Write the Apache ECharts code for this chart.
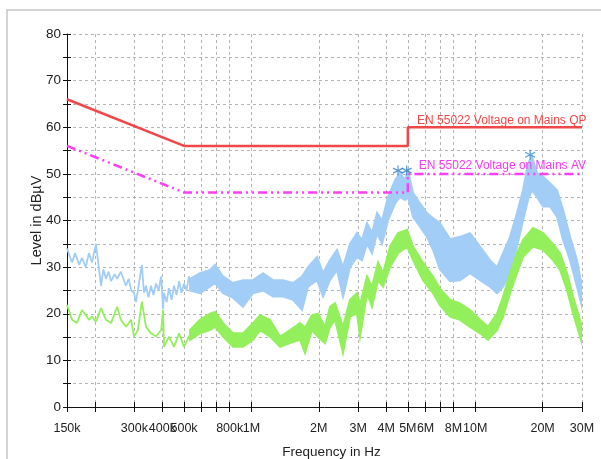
<!DOCTYPE html>
<html>
<head>
<meta charset="utf-8">
<script src="https://cdn.jsdelivr.net/npm/echarts@6/dist/echarts.min.js"></script>
<style>
  html, body { margin: 0; padding: 0; background: #fff; }
  #chart { width: 601px; height: 459px; }
</style>
</head>
<body>
<div id="chart"></div>
<script>
// frequencies in MHz, levels in dBuV
const tickFreqs = [0.15, 0.2, 0.3, 0.4, 0.5, 0.6, 0.7, 0.8, 1, 2, 3, 4, 5, 6, 7, 8, 10, 20, 30];
const labelFreqs = [0.15, 0.3, 0.4, 0.5, 0.8, 1, 2, 3, 4, 5, 6, 8, 10, 20, 30];
const labelTexts = ["150k", "300k", "400k", "500k", "800k", "1M", "2M", "3M", "4M", "5M", "6M", "8M", "10M", "20M", "30M"];

const qpFreq = [0.15, 0.5, 5, 5, 30];
const qpLevel = [66, 56, 56, 60, 60];
const avFreq = [0.15, 0.5, 5, 5, 30];
const avLevel = [56, 46, 46, 50, 50];

const blueLineFreq = [0.150, 0.158, 0.163, 0.170, 0.175, 0.182, 0.188, 0.194, 0.202, 0.208,
  0.213, 0.218, 0.224, 0.230, 0.236, 0.245, 0.251, 0.261, 0.275, 0.283,
  0.290, 0.299, 0.305, 0.311, 0.318, 0.324, 0.331, 0.338, 0.347, 0.356,
  0.365, 0.375, 0.385, 0.395, 0.403, 0.407, 0.418, 0.428, 0.440, 0.451,
  0.463, 0.475, 0.487, 0.500, 0.513, 0.526, 0.540, 0.554, 0.570, 0.589];
const blueLineLevel = [34, 31, 33, 30.5, 32, 30, 33, 31, 35, 30,
  26, 29.5, 27.5, 29, 27, 28.5, 27.5, 29, 26, 27.5,
  25, 24.5, 22.5, 25, 28, 30.5, 24.5, 26, 23.5, 26,
  24, 26.5, 25, 28, 21, 24.5, 22.5, 25.5, 23, 26,
  24, 27, 24.5, 26.5, 25, 28, 25, 27, 25.5, 27.5];

const blueBandFreq = [0.532, 0.589, 0.653, 0.688, 0.747, 0.828, 0.917, 1.017, 1.127, 1.249,
  1.384, 1.534, 1.683, 1.791, 1.965, 2.090, 2.245, 2.413, 2.566, 2.758,
  2.963, 3.120, 3.285, 3.459, 3.642, 3.834, 4.077, 4.383, 4.613, 4.857,
  5.009, 5.274, 5.667, 6.091, 6.479, 6.963, 7.716, 8.553, 9.480, 10.51,
  11.64, 12.52, 13.32, 14.31, 15.37, 16.35, 17.22, 17.94, 18.88, 20.10,
  21.58, 23.20, 24.69, 26.53, 28.50, 30.0];
const blueBandHi = [27.5, 28.7, 29.4, 30.5, 28, 26.6, 27.2, 27.2, 28.7, 27.2,
  27.2, 26.6, 28, 30, 32.2, 28.7, 31.5, 33.7, 30, 35,
  37.3, 35.8, 39.4, 37.3, 41.6, 40, 45, 48.7, 50.2, 48.7,
  50.8, 45.9, 43.7, 41.6, 40.5, 39.4, 36, 36.5, 37.3, 34.4,
  31.5, 30, 33, 36.5, 41.6, 46.5, 52.3, 53.7, 50.2, 49.4,
  48, 46.5, 42.3, 36.5, 31.5, 25.8];
const blueBandLo = [25, 24.4, 25.8, 26.6, 24.4, 23.4, 21.5, 24.4, 25, 23.7,
  23.7, 23, 20.8, 25.8, 27.2, 23.7, 27.2, 29.4, 23.7, 30,
  32.2, 31.5, 35, 33, 37.3, 35, 40, 43.7, 45, 44.4,
  45, 40.8, 38.7, 36.5, 33.7, 29.5, 27, 27.2, 28.7, 27.2,
  25.8, 24.4, 25.8, 28.7, 34.4, 40, 44.4, 46.5, 45, 43,
  43, 40.8, 35.8, 31.5, 25.8, 21.5];

const greenLineFreq = [0.150, 0.158, 0.166, 0.175, 0.182, 0.188, 0.194, 0.202, 0.213, 0.224,
  0.236, 0.251, 0.261, 0.275, 0.290, 0.299, 0.311, 0.324, 0.338, 0.356,
  0.375, 0.395, 0.403, 0.407, 0.428, 0.451, 0.475, 0.500, 0.526, 0.554, 0.570];
const greenLineLevel = [21.9, 18.7, 18, 20.8, 19.7, 18.7, 19.4, 18.3, 21.2, 18.7,
  18, 21.5, 18.7, 17.2, 18.7, 15.1, 16.5, 22.6, 17.2, 15.8,
  15.1, 16.5, 20.8, 12.9, 15.1, 12.9, 15.8, 12.9, 15.1, 16.5, 15.5];

const greenBandFreq = [0.532, 0.589, 0.653, 0.688, 0.747, 0.828, 0.917, 1.017, 1.093, 1.211,
  1.343, 1.488, 1.649, 1.736, 1.866, 1.985, 2.133, 2.245, 2.364, 2.566,
  2.758, 2.963, 3.057, 3.285, 3.459, 3.680, 3.873, 4.163, 4.520, 4.958,
  5.274, 5.844, 6.479, 6.963, 7.716, 8.553, 9.480, 10.51, 11.41, 12.52,
  13.32, 14.31, 15.37, 16.35, 18.12, 20.10, 22.26, 23.93, 25.73, 27.36, 30.0];
const greenBandHi = [16.5, 18.7, 20, 20.4, 18, 15.8, 15.8, 18, 19.7, 18.7,
  15.1, 16.5, 18, 17, 19.7, 20, 17.2, 21.5, 22.3, 17.2,
  23, 24.4, 22, 28, 25.8, 31, 28.7, 34.4, 37.3, 38,
  34.4, 31, 28, 25.4, 23, 22.2, 20.8, 18.7, 17.2, 20.1,
  23.7, 28.7, 33, 35.8, 38.4, 37.3, 35, 33, 28.7, 23.7, 17.2];
const greenBandLo = [14.4, 15.8, 16.5, 17.2, 15.1, 12.9, 12.9, 14.4, 16.5, 15.1,
  12.9, 13.7, 14.4, 11.6, 16.5, 15, 13.7, 17.2, 18.7, 11.6,
  19.4, 20.1, 15.1, 24.4, 21.5, 27.2, 25.8, 30, 33, 34.4,
  31.5, 27.2, 24.4, 21.8, 19.4, 18.7, 17.2, 15.8, 14.4, 16.5,
  19.4, 24.4, 28.7, 32.2, 34.4, 33.7, 31.5, 29.4, 25, 20.1, 13.7];

const peakFreq = [4.52, 4.94, 17.6];
const peakLevel = [50.7, 50.7, 54.1];

const FONT = "'Liberation Sans', Arial, sans-serif";
const lg = (mhz) => Math.log10(mhz * 1e6);
const pairs = (f, v) => f.map((x, i) => [lg(x), v[i]]);

const xMin = lg(0.15);
const xMax = lg(30);
const tickVals = tickFreqs.map(lg);
const labelVals = labelFreqs.map(lg);

function bandSeries(name, freq, hi, lo, color) {
  return {
    type: "custom",
    name: name,
    silent: true,
    clip: true,
    z: 2,
    data: [[xMin, 0]],
    renderItem: (params, api) => {
      const top = freq.map((f, i) => api.coord([lg(f), hi[i]]));
      const bottom = freq.map((f, i) => api.coord([lg(f), lo[i]])).reverse();
      return {
        type: "polygon",
        shape: { points: top.concat(bottom) },
        style: { fill: color, stroke: color, lineWidth: 2, lineJoin: "miter" },
      };
    },
  };
}

const chart = echarts.init(document.getElementById("chart"), null, { renderer: "canvas" });

const axisX = (inside) => ({
  type: "value",
  min: xMin,
  max: xMax,
  position: "bottom",
  axisLine: { show: !inside, lineStyle: { color: "#111", width: 1 } },
  axisTick: { show: true, inside: inside, length: 5, customValues: tickVals, lineStyle: { color: "#111" } },
  axisLabel: {
    show: !inside,
    customValues: labelVals,
    hideOverlap: false,
    margin: 15,
    color: "#222",
    fontFamily: FONT,
    fontSize: 12.5,
    formatter: (v) => {
      const i = labelVals.findIndex((t) => Math.abs(t - v) < 1e-6);
      return i >= 0 ? labelTexts[i] : "";
    },
  },
  splitLine: { show: !inside, lineStyle: { color: "#b4b4b4", type: [3, 3], width: 1 } },
  name: inside ? "" : "Frequency in Hz",
  nameLocation: "middle",
  nameGap: 38,
  nameMoveOverlap: false,
  nameTextStyle: { color: "#222", fontFamily: FONT, fontSize: 13.5, padding: [0, 0, 0, 14] },
});

const axisY = (inside) => ({
  type: "value",
  min: 0,
  max: 80,
  interval: 5,
  position: "left",
  axisLine: { show: !inside, lineStyle: { color: "#111", width: 1 } },
  axisTick: { show: true, inside: inside, length: 4, lineStyle: { color: "#111" } },
  axisLabel: {
    show: !inside,
    margin: 6,
    color: "#222",
    fontFamily: FONT,
    fontSize: 13.5,
    formatter: (v) => (v % 10 === 0 ? String(v) : ""),
  },
  splitLine: { show: !inside, lineStyle: { color: "#b4b4b4", type: [3, 3], width: 1 } },
  name: inside ? "" : "Level in dBµV",
  nameLocation: "middle",
  nameGap: 23,
  nameMoveOverlap: false,
  nameTextStyle: { color: "#222", fontFamily: FONT, fontSize: 14.5 },
});

const option = {
  animation: false,
  backgroundColor: "#fff",
  grid: { left: 67, right: 19, top: 34, bottom: 52, outerBoundsMode: "none" },
  xAxis: [axisX(false), axisX(true)],
  yAxis: [axisY(false), axisY(true)],
  series: [
    bandSeries("blueBand", blueBandFreq, blueBandHi, blueBandLo, "#a2cdf6"),
    {
      type: "line",
      name: "blue",
      data: pairs(blueLineFreq, blueLineLevel),
      showSymbol: false,
      lineStyle: { color: "#a2cdf6", width: 1.8 },
      z: 2,
    },
    bandSeries("greenBand", greenBandFreq, greenBandHi, greenBandLo, "#94ef5c"),
    {
      type: "line",
      name: "green",
      data: pairs(greenLineFreq, greenLineLevel),
      showSymbol: false,
      lineStyle: { color: "#94ef5c", width: 1.8 },
      z: 2,
    },
    {
      type: "line",
      name: "QP",
      data: pairs(qpFreq, qpLevel),
      showSymbol: false,
      lineStyle: { color: "#f0484a", width: 2.5 },
      z: 4,
    },
    {
      type: "line",
      name: "AV",
      data: pairs(avFreq, avLevel),
      showSymbol: false,
      lineStyle: { color: "#ff3cf6", width: 2.5, type: [9, 4, 2, 4, 2, 4] },
      z: 4,
    },
    {
      type: "scatter",
      name: "peaks",
      data: pairs(peakFreq, peakLevel),
      symbol: "path://M5,0L5,10M0.7,2.5L9.3,7.5M0.7,7.5L9.3,2.5",
      symbolSize: 10,
      itemStyle: { color: "none", borderColor: "#2f7fcc", borderWidth: 1.2 },
      z: 6,
    },
  ],
};

chart.setOption(option);

// limit line captions, placed through the chart's own coordinate system
const qpPos = chart.convertToPixel({ gridIndex: 0 }, [lg(5.5), 60]);
const avPos = chart.convertToPixel({ gridIndex: 0 }, [lg(5.6), 50]);
chart.setOption({
  graphic: [
    {
      type: "rect",
      shape: { x: 7, y: 10, width: 620, height: 480 },
      style: { fill: "none", stroke: "#c6c6c6", lineWidth: 1.5 },
      silent: true,
      z: -1,
    },
    {
      type: "text",
      x: qpPos[0],
      y: qpPos[1] - 7,
      style: {
        text: "EN 55022 Voltage on Mains QP",
        fill: "#f0484a",
        font: "12px " + FONT,
        verticalAlign: "middle",
        align: "left",
      },
      z: 10,
    },
    {
      type: "text",
      x: avPos[0],
      y: avPos[1] - 8,
      style: {
        text: "EN 55022 Voltage on Mains AV",
        fill: "#f53cf0",
        font: "12px " + FONT,
        verticalAlign: "middle",
        align: "left",
      },
      z: 10,
    },
  ],
});
</script>
</body>
</html>
